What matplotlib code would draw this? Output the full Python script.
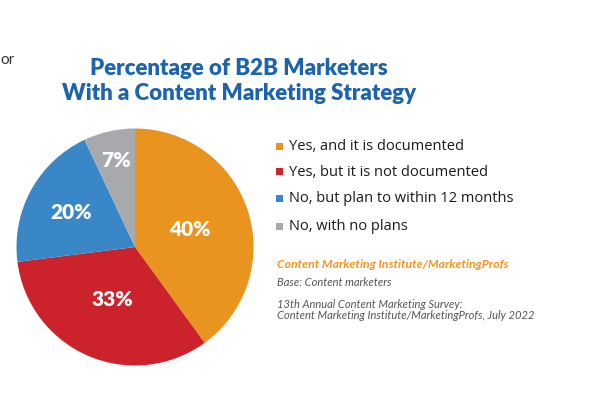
import numpy as np
import matplotlib
matplotlib.use("Agg")
import matplotlib.pyplot as plt

# данные
categories = ["Yes, and it is documented", "Yes, but it is not documented",
              "No, but plan to within 12 months", "No, with no plans"]
values = [40, 33, 20, 7]
colors = ["#E8941F", "#CC222C", "#3A87C7", "#A8A9AD"]
label_r = [0.49, 0.48, 0.61, 0.75]

title = "Percentage of B2B Marketers\nWith a Content Marketing Strategy"

W, H = 589, 395
fig = plt.figure(figsize=(W / 100, H / 100), dpi=100)
fig.patch.set_facecolor("white")
font = "Lato"

# --- пирог ---
cx, cy, r = 135, 247, 118.5
ax = fig.add_axes([(cx - r) / W, (H - cy - r) / H, 2 * r / W, 2 * r / H])
wedges, _ = ax.pie(values, colors=colors, startangle=90, counterclock=False,
                   wedgeprops=dict(linewidth=0))
ax.set_xlim(-1, 1)
ax.set_ylim(-1, 1)
ax.axis("off")

# подписи процентов
start = 90
for v, rr in zip(values, label_r):
    mid = np.deg2rad(start - v * 3.6 / 2)
    ax.text(rr * np.cos(mid), rr * np.sin(mid), f"{v}%", ha="center", va="center",
            color="white", fontsize=15, fontweight="heavy", family=font)
    start -= v * 3.6

# --- заголовок ---
fig.text(239 / W, 1 - 81 / H, title, ha="center", va="center", fontsize=16,
         fontweight="heavy", color="#1C64AD", family=font, linespacing=1.2)

# обрезанное слово слева
fig.text(0, 1 - 60 / H, "or", ha="left", va="center", fontsize=11,
         color="#333333", family=font)

# --- легенда ---
ys = [146, 172, 199, 226]
for cat, col, y in zip(categories, colors, ys):
    fig.patches.append(plt.Rectangle((276 / W, 1 - (y + 3.5) / H), 7 / W, 7 / H,
                                     transform=fig.transFigure, facecolor=col,
                                     edgecolor="none"))
    fig.text(289 / W, 1 - y / H, cat, ha="left", va="center", fontsize=10.5,
             color="#1a1a1a", family="Open Sans")

# --- источник ---
fig.text(277 / W, 1 - 264 / H, "Content Marketing Institute/MarketingProfs",
         ha="left", va="center", fontsize=8.8, fontweight="bold", style="italic",
         color="#F7941D", family=font)
fig.text(277 / W, 1 - 283 / H, "Base: Content marketers", ha="left", va="center",
         fontsize=8, style="italic", color="#555555", family=font)
fig.text(277 / W, 1 - 310 / H,
         "13th Annual Content Marketing Survey:\nContent Marketing Institute/MarketingProfs, July 2022",
         ha="left", va="center", fontsize=8, style="italic", color="#555555",
         family=font, linespacing=1.1)

fig.savefig("out.png", dpi=100)
